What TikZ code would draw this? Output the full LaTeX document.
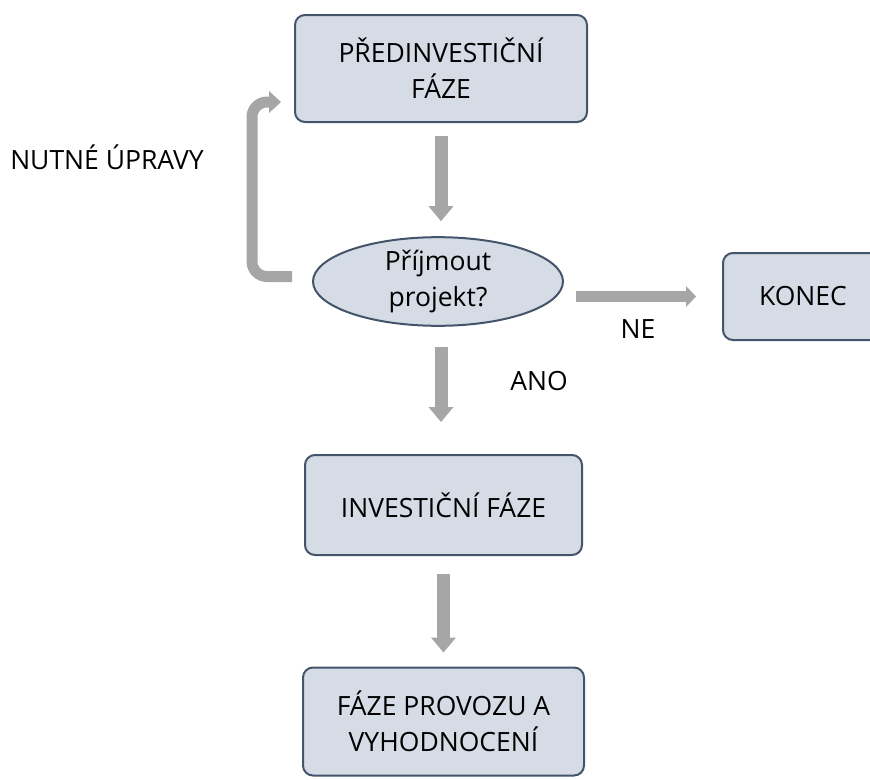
\documentclass[tikz,border=0pt]{standalone}
\usepackage{fontspec}
\setmainfont{Open Sans}
\usetikzlibrary{arrows.meta}
\usetikzlibrary{shapes.geometric}
\definecolor{boxfill}{HTML}{D6DCE5}
\definecolor{boxline}{HTML}{44546A}
\definecolor{arrowgray}{HTML}{A6A6A6}
\tikzset{
  phase/.style={draw=boxline, line width=2pt, fill=boxfill, rounded corners=10pt,
    align=center, inner sep=0pt, text=black},
  question/.style={ellipse, draw=boxline, line width=2pt, fill=boxfill,
    align=center, inner sep=0pt, text=black},
  lbl/.style={anchor=base, inner sep=0pt, text=black},
  downarrow/.style={draw=arrowgray, line width=13pt,
    -{Triangle[width=25pt,length=15pt,line width=0pt,fill=arrowgray]}},
  sidearrow/.style={draw=arrowgray, line width=11pt,
    -{Triangle[width=21pt,length=10pt,line width=0pt,fill=arrowgray]}},
  backarrow/.style={draw=arrowgray, line width=11pt, rounded corners=15pt,
    -{Triangle[width=22pt,length=12pt,line width=0pt,fill=arrowgray]}},
}
\begin{document}
\begin{tikzpicture}[x=1pt, y=-1pt, font=\fontsize{26.5}{36}\selectfont]
    \useasboundingbox (0,0) rectangle (870,779);
    % phases
    \node[phase, minimum width=292pt, minimum height=107pt] (pre) at (441,68.5) {PŘEDINVESTIČNÍ\\FÁZE};
    \node[question, minimum width=250pt, minimum height=87pt] (ask) at (438,281.5) {Příjmout\\projekt?};
    \node[phase, minimum width=160pt, minimum height=87pt] (konec) at (803,296.5) {KONEC};
    \node[phase, minimum width=277pt, minimum height=100pt] (inv) at (443.5,505) {INVESTIČNÍ FÁZE};
    \node[phase, minimum width=281pt, minimum height=108pt] (prov) at (443.5,721.5) {FÁZE PROVOZU A\\VYHODNOCENÍ};
    % labels
    \node[lbl] (upravy) at (107,169) {NUTNÉ ÚPRAVY};
    \node[lbl] (ne) at (638,338) {NE};
    \node[lbl] (ano) at (539,390) {ANO};
    % arrows
    \draw[downarrow, shorten <=13pt, shorten >=15pt] (pre.south) -- (pre.south |- ask.north);
    \draw[downarrow, shorten <=20pt, shorten >=32pt] ([xshift=3pt]ask.south) -- ([xshift=3pt]ask.south |- inv.north);
    \draw[downarrow, shorten <=18pt, shorten >=14pt] (inv.south) -- (prov.north);
    \draw[sidearrow, shorten <=12pt, shorten >=26pt] (ask.east |- konec.west) -- (konec.west);
    \draw[backarrow] ([xshift=-20pt,yshift=5pt]ask.west) -- ++(-40pt,0) |- ([xshift=-13pt,yshift=-33.5pt]pre.west);
\end{tikzpicture}
\end{document}
